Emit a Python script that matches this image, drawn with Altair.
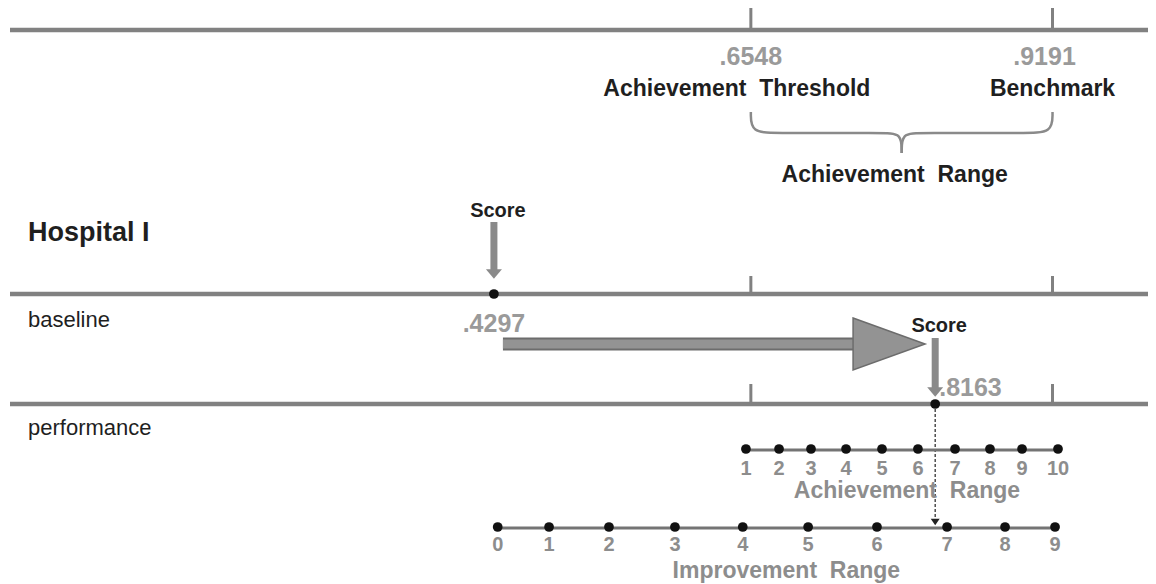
import altair as alt
import pandas as pd

# ---------------- data ----------------
threshold = 0.6548
benchmark = 0.9191
baseline_score = 0.4297
performance_score = 0.8163
top_labels = ["Achievement\u00a0 Threshold", "Benchmark"]
row_labels = ["Hospital I", "baseline", "performance"]
range_titles = ["Achievement\u00a0 Range", "Improvement\u00a0 Range"]
achievement_points = [1, 2, 3, 4, 5, 6, 7, 8, 9, 10]
achievement_pos = [0.6505, 0.6795, 0.7075, 0.7382, 0.7697, 0.8012, 0.8337, 0.8643, 0.8924, 0.9239]
improvement_points = [0, 1, 2, 3, 4, 5, 6, 7, 8, 9]
improvement_pos = [0.4330, 0.4780, 0.5305, 0.5883, 0.6477, 0.7050, 0.7653, 0.8267, 0.8775, 0.9213]

# ---------------- layout / style ----------------
W, H = 1140, 576
X_DOMAIN = [0.003975, 1.002748]
Y_DOMAIN = [8, 8 + H]
FONT = "Liberation Sans, Arial, Helvetica, sans-serif"
DARK = "#1f1f1f"
GRAY_TXT = "#8d8d8d"
LINE = "#818181"
LINE_Y = [30, 294, 404]
TICK_SPANS = [(8, 30), (276, 294), (384, 404)]
LEFT_X = 0.0215

X = alt.X("x:Q", scale=alt.Scale(domain=X_DOMAIN, nice=False, zero=False), axis=None)
Y = alt.Y("y:Q", scale=alt.Scale(domain=Y_DOMAIN, nice=False, zero=False, reverse=True), axis=None)


def fmt(v):
    return "." + f"{v:.4f}".split(".")[1]


def rules(df, **kw):
    enc = dict(x=X, y=Y)
    if "x2" in df.columns:
        enc["x2"] = "x2:Q"
    if "y2" in df.columns:
        enc["y2"] = "y2:Q"
    return alt.Chart(df).mark_rule(**kw).encode(**enc)


def texts(df, size, weight, color, align="center", dx=0):
    return alt.Chart(df).mark_text(
        align=align, baseline="alphabetic", font=FONT, fontSize=size,
        fontWeight=weight, color=color, dx=dx
    ).encode(x=X, y=Y, text="text:N")


def shape(df, path, size, fill, stroke=None, sw=0):
    kw = dict(shape=path, size=size, filled=True, fill=fill, opacity=1, strokeWidth=sw)
    if stroke:
        kw["stroke"] = stroke
    return alt.Chart(df).mark_point(**kw).encode(x=X, y=Y)


layers = []

# main horizontal lines
layers.append(
    alt.Chart(pd.DataFrame({"y": LINE_Y})).mark_rule(color=LINE, strokeWidth=4.5)
    .encode(x=alt.value(2), x2=alt.value(W), y=Y)
)

# ticks at threshold and benchmark on every line
tick_rows = [{"x": v, "y": a, "y2": b} for v in (threshold, benchmark) for a, b in TICK_SPANS]
layers.append(rules(pd.DataFrame(tick_rows), color=LINE, strokeWidth=3))

# brace under the top labels
mid = (threshold + benchmark) / 2
de, dm = 0.024, 0.016
brace = pd.DataFrame({
    "x": [threshold, threshold, threshold + de, mid - dm, mid, mid,
          mid, mid, mid + dm, benchmark - de, benchmark, benchmark],
    "y": [112, 133, 133, 133, 133, 153, 153, 133, 133, 133, 133, 112],
    "half": ["l"] * 6 + ["r"] * 6,
    "i": list(range(12)),
})
layers.append(
    alt.Chart(brace).mark_line(interpolate="basis", color="#8a8a8a", strokeWidth=2.5)
    .encode(x=X, y=Y, detail="half:N", order="i:Q")
)

# big improvement arrow (baseline -> performance)
shaft = pd.DataFrame({"x": [baseline_score + 0.0079], "x2": [performance_score - 0.072], "y": [344]})
layers.append(rules(shaft, color="#6c6c6c", strokeWidth=13))
layers.append(rules(shaft, color="#939393", strokeWidth=9))
layers.append(shape(pd.DataFrame({"x": [performance_score - 0.0404], "y": [344]}),
                    "M-1,-0.72L1,0L-1,0.72Z", 5184, "#939393", "#6c6c6c", 1.5))

# score arrows
score_shafts = pd.DataFrame({"x": [baseline_score, performance_score], "y": [222, 338], "y2": [270, 388]})
layers.append(rules(score_shafts, color="#8a8a8a", strokeWidth=7))
layers.append(shape(pd.DataFrame({"x": [baseline_score, performance_score], "y": [274, 392]}),
                    "M-1,-0.6L1,-0.6L0,0.6Z", 256, "#8a8a8a"))

# dashed drop line from performance score
layers.append(rules(pd.DataFrame({"x": [performance_score], "y": [404], "y2": [518]}),
                    color="#333333", strokeWidth=1.3, strokeDash=[3, 2]))
layers.append(shape(pd.DataFrame({"x": [performance_score], "y": [522]}),
                    "M-1,-0.7L1,-0.7L0,0.7Z", 81, "#222222"))

# achievement / improvement scales
layers.append(rules(pd.DataFrame({"x": [achievement_pos[0]], "x2": [achievement_pos[-1]], "y": [450]}),
                    color="#747474", strokeWidth=3))
layers.append(rules(pd.DataFrame({"x": [improvement_pos[0]], "x2": [improvement_pos[-1]], "y": [528]}),
                    color="#747474", strokeWidth=3))

dots = pd.DataFrame({
    "x": achievement_pos + improvement_pos + [baseline_score, performance_score],
    "y": [449] * len(achievement_pos) + [527] * len(improvement_pos) + [294, 404],
})
layers.append(alt.Chart(dots).mark_circle(size=95, color="#111111", opacity=1).encode(x=X, y=Y))

# ---------------- texts ----------------
layers.append(texts(pd.DataFrame({"x": [threshold], "y": [65], "text": [fmt(threshold)]}), 25, "bold", "#9a9a9a"))
layers.append(texts(pd.DataFrame({"x": [benchmark], "y": [65], "text": [fmt(benchmark)]}), 25, "bold", "#9a9a9a", dx=-8))
layers.append(texts(pd.DataFrame({"x": [threshold], "y": [96], "text": [top_labels[0]]}), 23, "bold", DARK, dx=-14))
layers.append(texts(pd.DataFrame({"x": [benchmark], "y": [96], "text": [top_labels[1]]}), 23, "bold", DARK))
layers.append(texts(pd.DataFrame({"x": [mid], "y": [182], "text": [range_titles[0]]}), 23, "bold", DARK, dx=-7))

layers.append(texts(pd.DataFrame({"x": [baseline_score, performance_score], "y": [217, 332],
                                  "text": ["Score", "Score"]}), 20, "bold", DARK, dx=4))
layers.append(texts(pd.DataFrame({"x": [baseline_score], "y": [332], "text": [fmt(baseline_score)]}),
                    25, "bold", "#9a9a9a"))
layers.append(texts(pd.DataFrame({"x": [performance_score], "y": [396], "text": [fmt(performance_score)]}),
                    25, "bold", "#9a9a9a", align="left", dx=4))

layers.append(texts(pd.DataFrame({"x": [LEFT_X], "y": [241], "text": [row_labels[0]]}), 27, "bold", DARK, align="left"))
layers.append(texts(pd.DataFrame({"x": [LEFT_X, LEFT_X], "y": [327, 435], "text": row_labels[1:]}),
                    22, "normal", DARK, align="left"))

layers.append(texts(pd.DataFrame({"x": achievement_pos, "y": [475] * 10,
                                  "text": [str(p) for p in achievement_points]}), 20, "bold", GRAY_TXT))
layers.append(texts(pd.DataFrame({"x": improvement_pos, "y": [551] * 10,
                                  "text": [str(p) for p in improvement_points]}), 20, "bold", GRAY_TXT))
layers.append(texts(pd.DataFrame({"x": [(achievement_pos[0] + achievement_pos[-1]) / 2], "y": [498],
                                  "text": [range_titles[0]]}), 23, "bold", GRAY_TXT, dx=5))
layers.append(texts(pd.DataFrame({"x": [(improvement_pos[0] + improvement_pos[-1]) / 2], "y": [578],
                                  "text": [range_titles[1]]}), 23, "bold", GRAY_TXT, dx=10))

chart = alt.layer(*layers).properties(
    width=W, height=H, padding=0,
    autosize=alt.AutoSizeParams(type="none"),
    background="white",
).configure_view(strokeWidth=0)

chart.save("out.html", embed_options={"renderer": "svg", "actions": False})
